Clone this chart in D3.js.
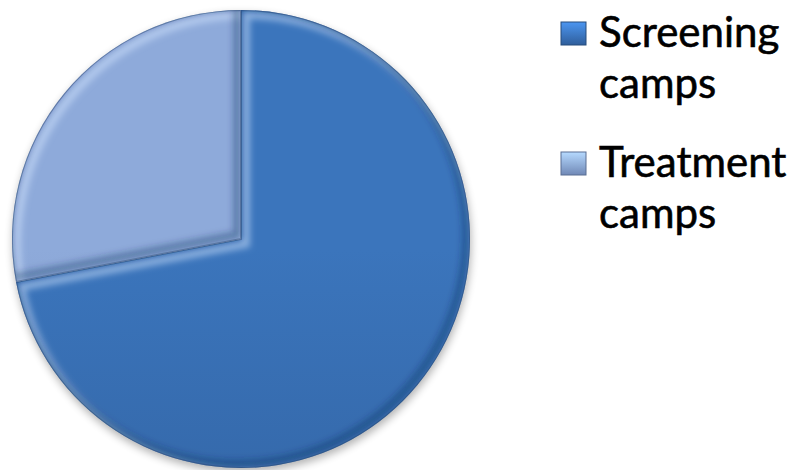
<!DOCTYPE html>
<meta charset="utf-8">
<style>
  body { margin: 0; background: #fff; }
  .legend text { font-family: Lato, "Open Sans", sans-serif; font-size: 42px; fill: #000; stroke: #000; stroke-width: 0.6px; }
</style>
<body>
<svg width="800" height="470"></svg>
<script src="https://d3js.org/d3.v7.min.js"></script>
<script>
// data --------------------------------------------------------------
var categories = ["Screening camps", "Treatment camps"];
var values = [72, 28];
var legendLines = [["Screening", "camps"], ["Treatment", "camps"]];
// -------------------------------------------------------------------

var svg = d3.select("svg");
var cx = 241, cy = 239, R = 229;

var colorTop = d3.scaleOrdinal().domain(categories).range(["#3b75bc", "#8eaada"]);
var colorBottom = d3.scaleOrdinal().domain(categories).range(["#2f5e9b", "#7088b6"]);

var defs = svg.append("defs");

categories.forEach(function(c, i) {
  var g = defs.append("linearGradient")
    .attr("id", "grad" + i)
    .attr("gradientUnits", "userSpaceOnUse")
    .attr("x1", 0).attr("y1", cy - R).attr("x2", 0).attr("y2", cy + R);
  g.append("stop").attr("offset", "0%").attr("stop-color", colorTop(c));
  g.append("stop").attr("offset", "100%").attr("stop-color", colorBottom(c));

  var lg = defs.append("linearGradient")
    .attr("id", "lgrad" + i)
    .attr("x1", 0).attr("y1", 0).attr("x2", 0).attr("y2", 1);
  lg.append("stop").attr("offset", "0%").attr("stop-color", d3.color(colorTop(c)).brighter(0.7));
  lg.append("stop").attr("offset", "100%").attr("stop-color", colorBottom(c));
});

// blur for soft shadow and bevel
defs.append("filter").attr("id", "shadow").attr("x", "-20%").attr("y", "-20%").attr("width", "140%").attr("height", "140%")
  .append("feGaussianBlur").attr("stdDeviation", 4);
defs.append("filter").attr("id", "soft").attr("x", "-10%").attr("y", "-10%").attr("width", "120%").attr("height", "120%")
  .append("feGaussianBlur").attr("stdDeviation", 3);

var pie = d3.pie().sort(null).value(d => d);
var arcs = pie(values);
var arc = d3.arc().innerRadius(0).outerRadius(R);

var chart = svg.append("g").attr("transform", `translate(${cx},${cy})`);

// shadow under the pie
chart.append("circle")
  .attr("cx", 1).attr("cy", 4).attr("r", R)
  .attr("fill", "#000").attr("opacity", 0.3)
  .attr("filter", "url(#shadow)");

arcs.forEach(function(a, i) {
  var clipId = "clip" + i;
  defs.append("clipPath").attr("id", clipId)
    .append("path").attr("d", arc(a)).attr("transform", `translate(${cx},${cy})`);

  chart.append("path")
    .attr("d", arc(a))
    .attr("fill", "url(#grad" + i + ")");

  // bevel: light on the top-left edges, dark on the bottom-right edges
  var bevel = svg.append("g").attr("clip-path", "url(#" + clipId + ")");
  bevel.append("path")
    .attr("d", arc(a))
    .attr("transform", `translate(${cx + 5},${cy + 5})`)
    .attr("fill", "none")
    .attr("stroke", "#d6e8ff")
    .attr("stroke-opacity", 0.5)
    .attr("stroke-width", 8)
    .attr("filter", "url(#soft)");
  bevel.append("path")
    .attr("d", arc(a))
    .attr("transform", `translate(${cx - 4},${cy - 4})`)
    .attr("fill", "none")
    .attr("stroke", "#0f2a52")
    .attr("stroke-opacity", 0.35)
    .attr("stroke-width", 8)
    .attr("filter", "url(#soft)");
  bevel.append("path")
    .attr("d", arc(a))
    .attr("transform", `translate(${cx},${cy})`)
    .attr("fill", "none")
    .attr("stroke", "#1d3a66")
    .attr("stroke-opacity", 0.4)
    .attr("stroke-width", 2);
});

// legend ------------------------------------------------------------
var legend = svg.append("g").attr("class", "legend");
var legendY = [47, 177];
categories.forEach(function(c, i) {
  var g = legend.append("g").attr("transform", `translate(0,${legendY[i]})`);
  g.append("rect")
    .attr("x", 561).attr("y", -25).attr("width", 25).attr("height", 23)
    .attr("fill", "url(#lgrad" + i + ")")
    .attr("stroke", d3.color(colorBottom(c)).darker(0.6))
    .attr("stroke-width", 1);
  g.append("text")
    .attr("x", 599).attr("y", 0)
    .text(legendLines[i][0]);
  g.append("text")
    .attr("x", 599).attr("y", 51)
    .text(legendLines[i][1]);
});
</script>
</body>
